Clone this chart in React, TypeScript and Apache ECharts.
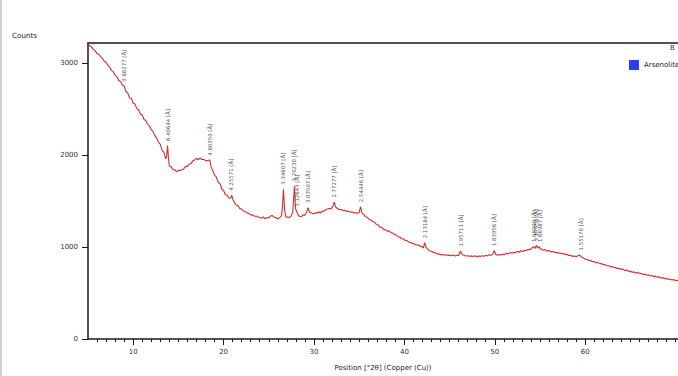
import React, { useEffect, useRef } from "react";
import * as echarts from "echarts";

const twoTheta: number[] = [
  5.0, 5.2, 5.4, 5.6, 5.8, 6.0, 6.2, 6.4, 6.6, 6.8, 7.0, 7.2, 7.4, 7.6, 7.8, 8.0, 8.2, 8.4, 8.6, 8.8,
  9.0, 9.2, 9.4, 9.6, 9.8, 10.0, 10.2, 10.4, 10.6, 10.8, 11.0, 11.2, 11.4, 11.6, 11.8, 12.0, 12.2, 12.4, 12.6, 12.8,
  13.0, 13.2, 13.4, 13.6, 13.7, 13.8, 13.9, 14.0, 14.2, 14.4, 14.6, 14.8, 15.0, 15.2, 15.4, 15.6, 15.8, 16.0, 16.2, 16.4,
  16.6, 16.8, 17.0, 17.2, 17.4, 17.6, 17.8, 18.0, 18.2, 18.4, 18.5, 18.6, 18.8, 19.0, 19.2, 19.4, 19.6, 19.8, 20.0, 20.2,
  20.4, 20.6, 20.8, 20.9, 21.0, 21.2, 21.4, 21.6, 21.8, 22.0, 22.2, 22.4, 22.6, 22.8, 23.0, 23.2, 23.4, 23.6, 23.8, 24.0,
  24.2, 24.4, 24.6, 24.8, 25.0, 25.2, 25.4, 25.6, 25.8, 26.0, 26.2, 26.4, 26.5, 26.62, 26.75, 26.9, 27.1, 27.3, 27.5, 27.65,
  27.84, 27.95, 28.1, 28.2, 28.4, 28.6, 28.8, 29.0, 29.2, 29.35, 29.5, 29.7, 29.9, 30.1, 30.3, 30.5, 30.7, 30.9, 31.1, 31.3,
  31.5, 31.7, 31.9, 32.1, 32.25, 32.4, 32.6, 32.8, 33.0, 33.2, 33.4, 33.6, 33.8, 34.0, 34.2, 34.4, 34.6, 34.8, 35.0, 35.15,
  35.3, 35.5, 35.7, 35.9, 36.1, 36.3, 36.5, 36.7, 36.9, 37.1, 37.3, 37.5, 37.7, 37.9, 38.1, 38.3, 38.5, 38.7, 38.9, 39.1,
  39.3, 39.5, 39.7, 39.9, 40.1, 40.3, 40.5, 40.7, 40.9, 41.1, 41.3, 41.5, 41.7, 41.9, 42.1, 42.25, 42.4, 42.6, 42.8, 43.0,
  43.2, 43.4, 43.6, 43.8, 44.0, 44.2, 44.4, 44.6, 44.8, 45.0, 45.2, 45.4, 45.6, 45.8, 46.0, 46.2, 46.4, 46.6, 46.8, 47.0,
  47.2, 47.4, 47.6, 47.8, 48.0, 48.2, 48.4, 48.6, 48.8, 49.0, 49.2, 49.4, 49.6, 49.8, 49.95, 50.1, 50.3, 50.5, 50.7, 50.9,
  51.1, 51.3, 51.5, 51.7, 51.9, 52.1, 52.3, 52.5, 52.7, 52.9, 53.1, 53.3, 53.5, 53.7, 53.9, 54.1, 54.3, 54.45, 54.6, 54.75,
  54.9, 55.05, 55.2, 55.4, 55.6, 55.8, 56.0, 56.2, 56.4, 56.6, 56.8, 57.0, 57.2, 57.4, 57.6, 57.8, 58.0, 58.2, 58.4, 58.6,
  58.8, 59.0, 59.2, 59.4, 59.6, 59.8, 60.0, 60.2, 60.4, 60.6, 60.8, 61.0, 61.2, 61.4, 61.6, 61.8, 62.0, 62.2, 62.4, 62.6,
  62.8, 63.0, 63.2, 63.4, 63.6, 63.8, 64.0, 64.2, 64.4, 64.6, 64.8, 65.0, 65.2, 65.4, 65.6, 65.8, 66.0, 66.2, 66.4, 66.6,
  66.8, 67.0, 67.2, 67.4, 67.6, 67.8, 68.0, 68.2, 68.4, 68.6, 68.8, 69.0, 69.2, 69.4, 69.6, 69.8, 70.0, 70.2,
  70.4, 70.6,
];

const counts: number[] = [
  3215, 3188, 3176, 3150, 3135, 3104, 3098, 3070, 3052, 3022, 3010, 2976, 2958, 2922, 2905, 2870, 2852, 2812, 2800, 2762,
  2752, 2692, 2676, 2622, 2616, 2565, 2556, 2506, 2494, 2446, 2436, 2388, 2376, 2332, 2318, 2278, 2256, 2212, 2188, 2140,
  2118, 2052, 2028, 1960, 1990, 2105, 1975, 1880, 1876, 1842, 1840, 1818, 1836, 1834, 1842, 1852, 1880, 1878, 1902, 1910,
  1938, 1946, 1966, 1950, 1970, 1952, 1956, 1940, 1938, 1948, 1940, 1875, 1832, 1784, 1760, 1705, 1690, 1632, 1616, 1570,
  1566, 1532, 1535, 1565, 1525, 1486, 1456, 1450, 1418, 1414, 1392, 1386, 1372, 1366, 1350, 1352, 1336, 1338, 1326, 1324,
  1314, 1328, 1306, 1322, 1318, 1340, 1342, 1322, 1322, 1306, 1320, 1340, 1420, 1630, 1400, 1326, 1326, 1322, 1342, 1380,
  1665, 1420, 1385, 1356, 1334, 1332, 1350, 1346, 1384, 1430, 1380, 1374, 1358, 1372, 1366, 1384, 1370, 1392, 1390, 1408,
  1414, 1420, 1416, 1445, 1490, 1436, 1420, 1406, 1412, 1396, 1400, 1388, 1392, 1380, 1384, 1372, 1376, 1364, 1375, 1440,
  1372, 1356, 1330, 1324, 1300, 1296, 1278, 1272, 1246, 1242, 1216, 1214, 1192, 1190, 1174, 1176, 1158, 1154, 1136, 1132,
  1112, 1108, 1090, 1089, 1072, 1070, 1052, 1052, 1036, 1038, 1022, 1025, 1010, 1008, 990, 1048, 996, 978, 958, 955,
  942, 938, 926, 928, 916, 920, 914, 916, 910, 912, 906, 914, 904, 912, 908, 958, 916, 912, 902, 906,
  900, 904, 898, 906, 896, 904, 898, 906, 900, 912, 904, 916, 910, 926, 962, 922, 910, 918, 914, 922,
  920, 934, 926, 940, 934, 944, 940, 954, 944, 960, 952, 966, 962, 976, 970, 990, 1005, 985, 1020, 990,
  1005, 978, 978, 966, 972, 956, 962, 948, 954, 942, 944, 934, 938, 926, 930, 918, 922, 908, 912, 898,
  904, 894, 906, 915, 892, 882, 868, 868, 854, 856, 840, 844, 830, 834, 820, 822, 808, 810, 796, 798,
  784, 790, 776, 778, 764, 770, 756, 760, 744, 750, 736, 740, 726, 730, 716, 726, 712, 714, 702, 706,
  694, 698, 686, 690, 680, 684, 672, 676, 664, 668, 656, 660, 648, 652, 642, 646, 636, 640,
  632, 634,
];

const peakTwoTheta: number[] = [
  8.94, 13.81, 18.46, 20.86, 26.62, 27.84, 28.15, 29.35, 32.26, 35.2, 42.3, 46.3, 49.9, 54.3, 54.6, 54.95, 59.5,
];
const peakCounts: number[] = [
  2750, 2105, 1945, 1565, 1630, 1665, 1390, 1430, 1490, 1440, 1048, 958, 962, 1005, 1020, 1005, 915,
];
const peakLabels: string[] = [
  "9.88277 [Å]", "6.40644 [Å]", "4.80350 [Å]", "4.25571 [Å]", "3.34607 [Å]", "3.20230 [Å]", "3.12643 [Å]",
  "3.03507 [Å]", "2.77277 [Å]", "2.54446 [Å]", "2.13184 [Å]", "1.95711 [Å]", "1.83956 [Å]", "1.68900 [Å]",
  "1.67956 [Å]", "1.66987 [Å]", "1.55170 [Å]",
];

const xMajorTicks: number[] = [10, 20, 30, 40, 50, 60];
const xMinorTicks: number[] = [
  6, 7, 8, 9, 10, 11, 12, 13, 14, 15, 16, 17, 18, 19, 20, 21, 22, 23, 24, 25, 26, 27, 28, 29, 30, 31, 32, 33, 34, 35, 36, 37,
  38, 39, 40, 41, 42, 43, 44, 45, 46, 47, 48, 49, 50, 51, 52, 53, 54, 55, 56, 57, 58, 59, 60, 61, 62, 63, 64, 65, 66, 67, 68, 69, 70,
];
const yTicks: number[] = [0, 1000, 2000, 3000];

const FONT = "DejaVu Sans";

export default function App() {
  const ref = useRef<HTMLDivElement>(null);

  useEffect(() => {
    if (!ref.current) return;
    const chart = echarts.init(ref.current, undefined, { renderer: "svg" });
    const lineData = twoTheta.map((x, i) => [x, counts[i]]);
    const peakData = peakTwoTheta.map((x, i) => ({ value: [x, peakCounts[i]], name: peakLabels[i] }));
    const xMin = 5;
    const xMax = 70.27;
    const frame = { color: "#1a1a1a", width: 1.5 };

    chart.setOption({
      animation: false,
      backgroundColor: "#ffffff",
      textStyle: { fontFamily: FONT },
      grid: { left: 88, top: 43, right: 0, bottom: 36, show: false },
      legend: {
        data: ["Arsenolite"],
        left: 624,
        top: 55,
        icon: "rect",
        itemWidth: 10,
        itemHeight: 10,
        itemGap: 4,
        textStyle: { fontFamily: FONT, fontSize: 7, color: "#222" },
      },
      xAxis: [
        {
          type: "value",
          min: xMin,
          max: xMax,
          position: "bottom",
          name: "Position [°2θ] (Copper (Cu))",
          nameLocation: "middle",
          nameGap: 25,
          nameTextStyle: { fontFamily: FONT, fontSize: 7, color: "#222" },
          axisLine: { show: true, onZero: false, lineStyle: frame },
          axisTick: { show: true, customValues: xMajorTicks, length: 6, lineStyle: { color: "#1a1a1a", width: 1 } },
          axisLabel: { customValues: xMajorTicks, margin: 9, fontFamily: FONT, fontSize: 7, color: "#333" },
          splitLine: { show: false },
        },
        {
          type: "value",
          min: xMin,
          max: xMax,
          position: "bottom",
          axisLine: { show: false },
          axisTick: { show: true, customValues: xMinorTicks, length: 3, lineStyle: { color: "#1a1a1a", width: 1 } },
          axisLabel: { show: false },
          splitLine: { show: false },
        },
        {
          type: "value",
          min: xMin,
          max: xMax,
          position: "top",
          axisLine: { show: true, onZero: false, lineStyle: frame },
          axisTick: { show: false },
          axisLabel: { show: false },
          splitLine: { show: false },
        },
      ],
      yAxis: {
        type: "value",
        min: 0,
        max: 3220,
        axisLine: { show: true, onZero: false, lineStyle: frame },
        axisTick: { show: true, customValues: yTicks, length: 6, lineStyle: { color: "#1a1a1a", width: 1 } },
        axisLabel: {
          customValues: yTicks,
          margin: 10,
          fontFamily: FONT,
          fontSize: 7,
          color: "#333",
          formatter: (v: number) => String(v),
        },
        splitLine: { show: false },
      },
      series: [
        {
          name: "Pattern",
          type: "line",
          xAxisIndex: 0,
          data: lineData,
          showSymbol: false,
          symbol: "none",
          lineStyle: { color: "#d22f2f", width: 1.1 },
          itemStyle: { color: "#d22f2f" },
          silent: true,
          z: 3,
        },
        {
          name: "Peaks",
          type: "scatter",
          xAxisIndex: 0,
          data: peakData,
          symbolSize: 1,
          itemStyle: { color: "rgba(0,0,0,0)" },
          label: {
            show: true,
            position: "top",
            distance: 4,
            rotate: 90,
            align: "left",
            verticalAlign: "middle",
            formatter: (p: any) => p.name,
            fontFamily: FONT,
            fontSize: 5.4,
            color: "#1a1a1a",
          },
          silent: true,
          z: 4,
        },
        {
          name: "Arsenolite",
          type: "line",
          xAxisIndex: 0,
          data: [],
          itemStyle: { color: "#2a3ff2" },
          lineStyle: { color: "#2a3ff2" },
        },
      ],
      graphic: [
        { type: "rect", left: 0, top: 0, shape: { width: 2, height: 376 }, style: { fill: "#cfcfcf" } },
        { type: "text", left: 12, top: 32, style: { text: "Counts", fontFamily: FONT, fontSize: 7.2, fill: "#222" } },
        { type: "text", left: 670, top: 44, style: { text: "B", fontFamily: FONT, fontSize: 7, fill: "#333" } },
      ],
    });

    return () => chart.dispose();
  }, []);

  return (
    <div
      ref={ref}
      style={{ position: "fixed", left: 0, top: 0, width: 678, height: 376, background: "#fff" }}
    />
  );
}
